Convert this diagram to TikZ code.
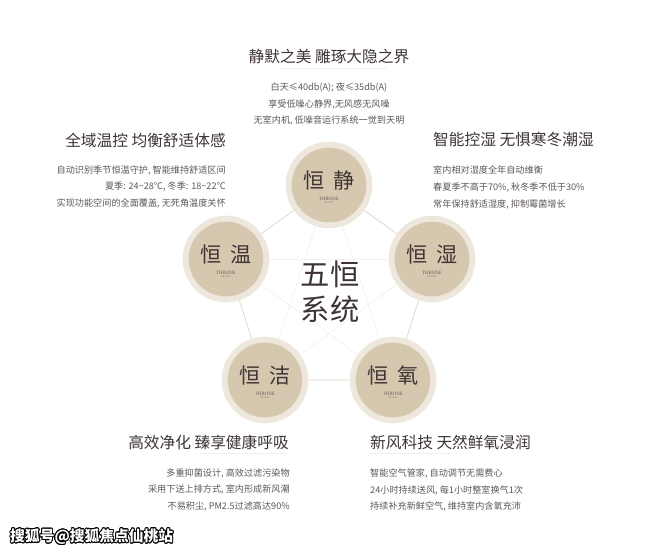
\documentclass[tikz,border=0pt]{standalone}
\usepackage{fontspec}
\setmainfont{Noto Sans CJK SC}
\newfontfamily\throne{Liberation Serif}
\usepackage{contour}
\contourlength{0.7pt}

\definecolor{ring}{HTML}{EEE7DD}
\definecolor{disk}{HTML}{D6C7AF}
\definecolor{ink}{HTML}{3E3434}
\definecolor{body}{HTML}{5E5858}
\definecolor{edge}{HTML}{DCD5CB}

\tikzset{
  heng/.style={circle, fill=ring, minimum size=2.6cm, inner sep=0pt,
    path picture={\fill[disk] (path picture bounding box.center) circle (1.12cm);}},
  hengtext/.style={text=ink, font=\fontsize{18}{20}\selectfont, inner sep=0pt},
  thronemark/.style={text=ink!80, font=\throne\fontsize{4.2}{4.2}\selectfont, inner sep=0pt},
  citymark/.style={text=ink!70, font=\throne\fontsize{2.2}{2.2}\selectfont, inner sep=0pt},
  headline/.style={text=ink, font=\fontsize{13.4}{15}\selectfont, inner sep=0pt},
  bodytext/.style={text=body, font=\fontsize{7.8}{14.5}\selectfont, inner sep=0pt},
  pentaline/.style={draw=edge, line width=0.6pt},
  starline/.style={draw=edge!35, line width=0.5pt},
  underline/.style={draw=gray!12, line width=0.6pt}
}

\begin{document}
\begin{tikzpicture}[x=0.03cm,y=-0.03cm]
    \fill[white] (0,0) rectangle (660,554);
    \useasboundingbox (0,0) rectangle (660,554);

    % five circles
    \foreach \n/\x/\y/\c in {jing/329/185/静, shi/432/259/湿, wen/226/259/温, yang/393/380/氧, jie/265/380/洁}{
      \node[heng] (\n) at (\x,\y) {};
      \node[hengtext] (\n t) at (\x,\y-5) {恒\hspace{0.4em}\c};
      \node[thronemark] (\n m) at (\x,\y+14) {THRONE};
      \node[citymark] (\n c) at (\x,\y+17.5) {OF CITY};
    }

    \draw[pentaline] (jing) -- (shi) -- (yang) -- (jie) -- (wen) -- (jing);
    \draw[starline] (jing) -- (jie);
    \draw[starline] (jing) -- (yang);
    \draw[starline] (wen) -- (shi);
    \draw[starline] (wen) -- (yang);
    \draw[starline] (shi) -- (jie);

    \node[text=ink, font=\fontsize{25}{30}\selectfont, align=center, inner sep=0pt] (core) at (330,292) {五恒\\系统};

    % top
    \node[headline] (t1) at (329,57) {静默之美\ 雕琢大隐之界};
    \draw[underline] (280,68) -- (387,68);
    \node[bodytext, align=center] (b1) at (329,104) {白天≤40db(A); 夜≤35db(A)\\享受低噪心静界,无风感无风噪\\无室内机, 低噪音运行系统一觉到天明};

    % left
    \node[headline, anchor=east] (t2) at (226,140) {全域温控\ 均衡舒适体感};
    \node[bodytext, align=right, anchor=east] (b2) at (226,187) {自动识别季节恒温守护, 智能维持舒适区间\\夏季: 24\textasciitilde 28℃, 冬季: 18\textasciitilde 22℃\\实现功能空间的全面覆盖, 无死角温度关怀};

    % right
    \node[headline, anchor=west] (t3) at (433,140) {智能控湿\ 无惧寒冬潮湿};
    \node[bodytext, align=left, anchor=west] (b3) at (433,187) {室内相对湿度全年自动维衡\\春夏季不高于70\%, 秋冬季不低于30\%\\常年保持舒适湿度, 抑制霉菌增长};

    % bottom left
    \node[headline, anchor=east] (t4) at (289,442) {高效净化\ 臻享健康呼吸};
    \draw[underline] (200,453) -- (290,453);
    \node[bodytext, align=right, anchor=east] (b4) at (290,490) {多重抑菌设计, 高效过滤污染物\\采用下送上排方式, 室内形成新风潮\\不易积尘, PM2.5过滤高达90\%};

    % bottom right
    \node[headline, anchor=west] (t5) at (370,442) {新风科技\ 天然鲜氧浸润};
    \draw[underline] (370,453) -- (452,453);
    \node[bodytext, align=left, anchor=west] (b5) at (370,490) {智能空气管家, 自动调节无需费心\\24小时持续送风, 每1小时整室换气1次\\持续补充新鲜空气, 维持室内含氧充沛};

    % watermark
    \node[anchor=west, inner sep=0pt, font=\bfseries\fontsize{12.6}{14}\selectfont] (mark) at (10,537) {\contour{black}{\textcolor{white}{搜狐号@搜狐焦点仙桃站}}};
\end{tikzpicture}
\end{document}
